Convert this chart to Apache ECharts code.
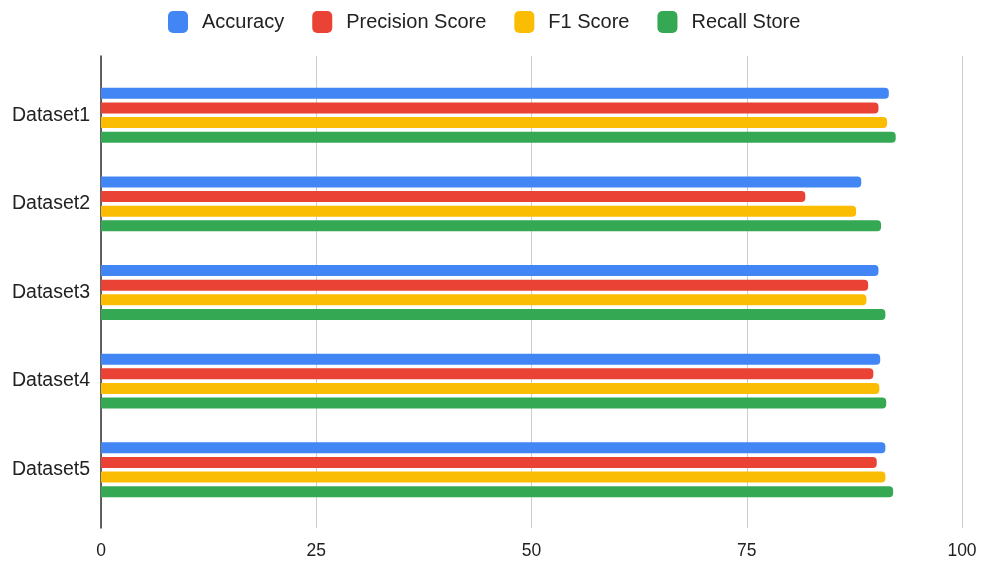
<!DOCTYPE html>
<html>
<head>
<meta charset="utf-8">
<script src="https://cdn.jsdelivr.net/npm/echarts@6/dist/echarts.min.js"></script>
<style>
  html, body { margin: 0; padding: 0; background: #fff; }
  #chart { width: 982px; height: 562px; }
</style>
</head>
<body>
<div id="chart"></div>
<script>
// 数据
const datasets = ["Dataset1", "Dataset2", "Dataset3", "Dataset4", "Dataset5"];
const accuracy = [91.5, 88.3, 90.3, 90.5, 91.1];
const precision = [90.3, 81.8, 89.1, 89.7, 90.1];
const f1 = [91.3, 87.7, 88.9, 90.4, 91.1];
const recall = [92.3, 90.6, 91.1, 91.2, 92.0];
const xTicks = [0, 25, 50, 75, 100];

const font = "'Liberation Sans', Arial, sans-serif";

function bar(name, data, color) {
    return {
        name: name,
        type: "bar",
        data: data,
        xAxisIndex: 0,
        yAxisIndex: 0,
        barWidth: 11,
        barGap: "33%",
        itemStyle: { color: color, borderRadius: [0, 4, 4, 0] },
    };
}

let myChart = echarts.init(document.getElementById("chart"));
myChart.setOption({
    animation: false,
    textStyle: { fontFamily: font },
    legend: {
        top: 6,
        left: 163,
        itemWidth: 20,
        itemHeight: 22,
        itemGap: 28,
        icon: "roundRect",
        textStyle: { fontSize: 20, color: "#222", fontFamily: font, padding: [0, 0, 0, 9] },
    },
    grid: [
        // 柱子区域
        { left: 101, right: 20, top: 71, bottom: 48 },
        // 网格线和刻度
        { left: 101, right: 20, top: 56, bottom: 34 },
    ],
    xAxis: [
        {
            gridIndex: 0, type: "value", min: 0, max: 100,
            show: false, splitLine: { show: false },
        },
        {
            gridIndex: 1, type: "value", min: xTicks[0], max: xTicks[xTicks.length - 1], interval: 25,
            axisLine: { show: false },
            axisTick: { show: false },
            axisLabel: { fontSize: 17.5, color: "#222", margin: 14, fontFamily: font },
            splitLine: { lineStyle: { color: "#cccccc", width: 1 } },
        },
    ],
    yAxis: [
        {
            gridIndex: 0, type: "category", data: datasets, inverse: true,
            axisLine: { show: false },
            axisTick: { show: false },
            axisLabel: { fontSize: 19.5, color: "#222", margin: 11, fontFamily: font },
        },
        {
            gridIndex: 1, type: "value", min: 0, max: 1,
            axisLine: { show: true, onZero: false, lineStyle: { color: "#333", width: 1.5 } },
            axisTick: { show: false },
            axisLabel: { show: false },
            splitLine: { show: false },
        },
    ],
    series: [
        bar("Accuracy", accuracy, "#4285F4"),
        bar("Precision Score", precision, "#EA4335"),
        bar("F1 Score", f1, "#FBBC04"),
        bar("Recall Store", recall, "#34A853"),
    ],
});
</script>
</body>
</html>
